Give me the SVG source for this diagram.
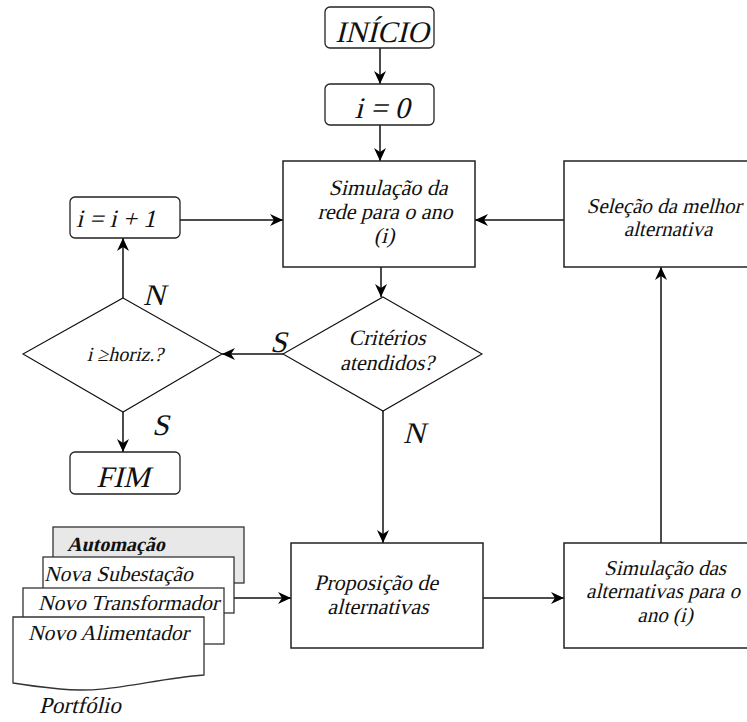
<svg xmlns="http://www.w3.org/2000/svg" width="747" height="722" viewBox="0 0 747 722">
  <defs>
    <marker id="arrow" markerUnits="userSpaceOnUse" markerWidth="14" markerHeight="12" refX="13" refY="6" orient="auto">
      <path d="M0,0 L13,6 L0,12 L4,6 z" fill="#000"/>
    </marker>
    <style>
      .box { fill: #fff; stroke: #222; stroke-width: 1.5; }
      .term { fill: #fff; stroke: #222; stroke-width: 1.3; }
      .dia { fill: #fff; stroke: #111; stroke-width: 1.1; }
      .doc { fill: #fff; stroke: #333; stroke-width: 1.3; }
      .edge { fill: none; stroke: #111; stroke-width: 1.5; marker-end: url(#arrow); }
      /* slanted serif lettering: upright face, sheared at each baseline */
      text { font-family: "Liberation Serif", serif; fill: #111; }
      .t22 { font-size: 22px; text-anchor: middle; }
      .t21 { font-size: 21px; text-anchor: middle; }
      .t30 { font-size: 30px; text-anchor: middle; }
      .lbl { font-size: 30px; }
      .port { font-size: 21.5px; }
    </style>
  </defs>

  <!-- connectors -->
  <g id="connectors">
    <line class="edge" x1="380" y1="48" x2="380" y2="84"/>
    <line class="edge" x1="380" y1="125" x2="380" y2="161"/>
    <line class="edge" x1="381" y1="267" x2="381" y2="297"/>
    <line class="edge" x1="283" y1="354" x2="222" y2="354"/>
    <line class="edge" x1="383" y1="411" x2="383" y2="543"/>
    <line class="edge" x1="123" y1="298" x2="123" y2="238"/>
    <line class="edge" x1="180" y1="220" x2="283" y2="220"/>
    <line class="edge" x1="123" y1="412" x2="123" y2="452"/>
    <line class="edge" x1="233" y1="598" x2="291" y2="598"/>
    <line class="edge" x1="483" y1="598" x2="564" y2="598"/>
    <line class="edge" x1="661" y1="543" x2="661" y2="267"/>
    <line class="edge" x1="564" y1="220" x2="475" y2="220"/>
    <text class="lbl" transform="translate(270,352) skewX(-14)">S</text>
    <text class="lbl" transform="translate(143,305) skewX(-14)">N</text>
    <text class="lbl" transform="translate(152,435) skewX(-14)">S</text>
    <text class="lbl" transform="translate(403,443) skewX(-14)">N</text>
  </g>

  <g id="inicio">
    <rect class="term" x="325" y="7" width="109" height="41" rx="5"/>
    <text class="t30" transform="translate(382,42) skewX(-14)">INÍCIO</text>
  </g>

  <g id="init-i">
    <rect class="term" x="325" y="84" width="109" height="41" rx="5"/>
    <text class="t30" transform="translate(382,118) skewX(-14)">i = 0</text>
  </g>

  <g id="simulacao-rede">
    <rect class="box" x="283" y="161" width="192" height="106"/>
    <text class="t22" transform="translate(388,195) skewX(-14)">Simulação da</text>
    <text class="t22" transform="translate(385,219) skewX(-14)">rede para o ano</text>
    <text class="t22" transform="translate(384,243) skewX(-14)">(i)</text>
  </g>

  <g id="selecao">
    <rect class="box" x="564" y="161" width="200" height="106"/>
    <text class="t21" font-size="20.5" transform="translate(664,213) skewX(-14)">Seleção da melhor</text>
    <text class="t21" transform="translate(668,236) skewX(-14)">alternativa</text>
  </g>

  <g id="incremento">
    <rect class="term" x="70" y="197" width="110" height="41" rx="5"/>
    <text font-size="25" transform="translate(76,227) skewX(-14)">i = i + 1</text>
  </g>

  <g id="horizonte">
    <polygon class="dia" points="123,298 222,354 123,412 23,354"/>
    <text font-size="20" text-anchor="middle" transform="translate(125,361) skewX(-14)">i ≥horiz.?</text>
  </g>

  <g id="criterios">
    <polygon class="dia" points="383,297 482,354 383,411 283,354"/>
    <text class="t22" transform="translate(387,345) skewX(-14)">Critérios</text>
    <text class="t22" transform="translate(387,370) skewX(-14)">atendidos?</text>
  </g>

  <g id="fim">
    <rect class="term" x="70" y="452" width="110" height="42" rx="5"/>
    <text class="t30" font-size="31" transform="translate(123,487) skewX(-14)">FIM</text>
  </g>

  <g id="proposicao">
    <rect class="box" x="291" y="543" width="192" height="105"/>
    <text class="t22" transform="translate(376,590) skewX(-14)">Proposição de</text>
    <text class="t22" transform="translate(378,614) skewX(-14)">alternativas</text>
  </g>

  <g id="simulacao-alternativas">
    <rect class="box" x="564" y="543" width="200" height="105"/>
    <text class="t21" transform="translate(665,575) skewX(-14)">Simulação das</text>
    <text class="t21" transform="translate(663,598) skewX(-14)">alternativas para o</text>
    <text class="t21" transform="translate(665,622) skewX(-14)">ano (i)</text>
  </g>

  <!-- stacked portfolio documents, back to front -->
  <g id="portfolio">
    <rect class="doc" x="53" y="527" width="191" height="56" style="fill:#e8e8e8"/>
    <text font-size="20" font-weight="bold" transform="translate(67,551) skewX(-14)">Automação</text>
    <rect class="doc" x="43" y="557" width="191" height="56"/>
    <text class="port" transform="translate(44,581) skewX(-14)">Nova Subestação</text>
    <rect class="doc" x="23" y="588" width="201" height="56"/>
    <text class="port" transform="translate(38,610) skewX(-14)">Novo Transformador</text>
    <path class="doc" d="M13,617 H204 V675 C150,679 110,694 60,689 C40,687 25,685 13,683 Z"/>
    <text class="port" transform="translate(28,640) skewX(-14)">Novo Alimentador</text>
    <text font-size="23" transform="translate(39,713) skewX(-14)">Portfólio</text>
  </g>
</svg>
